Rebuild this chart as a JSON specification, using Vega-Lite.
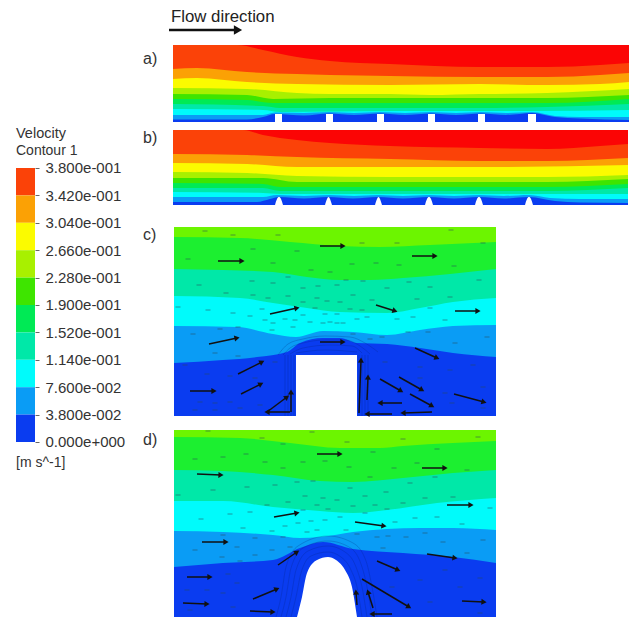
{"$schema":"https://vega.github.io/schema/vega-lite/v6.json","padding":0,"background":"white","bounds":"flush","spacing":105,"config":{"view":{"stroke":null},"text":{"font":"Liberation Sans"},"concat":{"spacing":8}},
"datasets":{
"legend":[{"band":"orangered","v0":0.342,"v1":0.38},{"band":"orange","v0":0.304,"v1":0.342},{"band":"yellow","v0":0.266,"v1":0.304},{"band":"yellowgreen","v0":0.228,"v1":0.266},{"band":"green","v0":0.19,"v1":0.228},{"band":"spring","v0":0.152,"v1":0.19},{"band":"teal","v0":0.114,"v1":0.152},{"band":"cyan","v0":0.076,"v1":0.114},{"band":"lightblue","v0":0.038,"v1":0.076},{"band":"blue","v0":0,"v1":0.038}],
"legendText":[{"x":16,"v":0.4272,"text":"Velocity","size":14.5},{"x":16,"v":0.4036,"text":"Contour 1","size":14},{"x":16,"v":-0.0291,"text":"[m s^-1]","size":14}],
"labels":[{"p":"h","x":171,"y":17,"text":"Flow direction","size":16.8},{"p":"a","x":143,"y":59,"text":"a)","size":16},{"p":"b","x":143,"y":138,"text":"b)","size":16},{"p":"c","x":143,"y":235,"text":"c)","size":16},{"p":"d","x":143,"y":440,"text":"d)","size":16}],
"contours":[
{"p":"a","band":"red","x":173,"y":45},{"p":"a","band":"red","x":629,"y":45},
{"p":"a","band":"orangered","x":173,"y":45},{"p":"a","band":"orangered","x":237,"y":45},{"p":"a","band":"orangered","x":263,"y":50},{"p":"a","band":"orangered","x":297,"y":57},{"p":"a","band":"orangered","x":330,"y":61},{"p":"a","band":"orangered","x":390,"y":64},{"p":"a","band":"orangered","x":480,"y":67},{"p":"a","band":"orangered","x":547,"y":67},{"p":"a","band":"orangered","x":600,"y":65},{"p":"a","band":"orangered","x":629,"y":63},
{"p":"a","band":"orange","x":173,"y":69},{"p":"a","band":"orange","x":197,"y":68},{"p":"a","band":"orange","x":247,"y":72},{"p":"a","band":"orange","x":297,"y":74},{"p":"a","band":"orange","x":330,"y":75},{"p":"a","band":"orange","x":390,"y":76},{"p":"a","band":"orange","x":480,"y":77},{"p":"a","band":"orange","x":547,"y":77},{"p":"a","band":"orange","x":600,"y":75},{"p":"a","band":"orange","x":629,"y":73},
{"p":"a","band":"yellow","x":173,"y":79},{"p":"a","band":"yellow","x":197,"y":78},{"p":"a","band":"yellow","x":247,"y":82},{"p":"a","band":"yellow","x":297,"y":84},{"p":"a","band":"yellow","x":390,"y":85},{"p":"a","band":"yellow","x":480,"y":84},{"p":"a","band":"yellow","x":547,"y":85},{"p":"a","band":"yellow","x":600,"y":84},{"p":"a","band":"yellow","x":629,"y":82},
{"p":"a","band":"yellowgreen","x":173,"y":88},{"p":"a","band":"yellowgreen","x":247,"y":89},{"p":"a","band":"yellowgreen","x":297,"y":93},{"p":"a","band":"yellowgreen","x":330,"y":94},{"p":"a","band":"yellowgreen","x":390,"y":94},{"p":"a","band":"yellowgreen","x":430,"y":95},{"p":"a","band":"yellowgreen","x":480,"y":94},{"p":"a","band":"yellowgreen","x":547,"y":93},{"p":"a","band":"yellowgreen","x":629,"y":89},
{"p":"a","band":"green","x":173,"y":94},{"p":"a","band":"green","x":247,"y":95},{"p":"a","band":"green","x":273,"y":99},{"p":"a","band":"green","x":330,"y":98},{"p":"a","band":"green","x":390,"y":98},{"p":"a","band":"green","x":480,"y":98},{"p":"a","band":"green","x":547,"y":98},{"p":"a","band":"green","x":629,"y":95},
{"p":"a","band":"spring","x":173,"y":99},{"p":"a","band":"spring","x":247,"y":100},{"p":"a","band":"spring","x":273,"y":103},{"p":"a","band":"spring","x":390,"y":103},{"p":"a","band":"spring","x":547,"y":103},{"p":"a","band":"spring","x":629,"y":99},
{"p":"a","band":"teal","x":173,"y":104},{"p":"a","band":"teal","x":263,"y":106},{"p":"a","band":"teal","x":280,"y":108},{"p":"a","band":"teal","x":390,"y":108},{"p":"a","band":"teal","x":480,"y":108},{"p":"a","band":"teal","x":547,"y":107},{"p":"a","band":"teal","x":629,"y":104},
{"p":"a","band":"cyan","x":173,"y":109},{"p":"a","band":"cyan","x":263,"y":110},{"p":"a","band":"cyan","x":280,"y":112},{"p":"a","band":"cyan","x":390,"y":111},{"p":"a","band":"cyan","x":530,"y":111},{"p":"a","band":"cyan","x":629,"y":110},
{"p":"a","band":"lightblue","x":173,"y":115},{"p":"a","band":"lightblue","x":263,"y":115},{"p":"a","band":"lightblue","x":275,"y":112.5},{"p":"a","band":"lightblue","x":304,"y":113},{"p":"a","band":"lightblue","x":329,"y":112},{"p":"a","band":"lightblue","x":354,"y":113},{"p":"a","band":"lightblue","x":380,"y":112},{"p":"a","band":"lightblue","x":405,"y":113},{"p":"a","band":"lightblue","x":431,"y":112},{"p":"a","band":"lightblue","x":456,"y":113},{"p":"a","band":"lightblue","x":481,"y":112},{"p":"a","band":"lightblue","x":506,"y":113},{"p":"a","band":"lightblue","x":532,"y":112},{"p":"a","band":"lightblue","x":555,"y":116},{"p":"a","band":"lightblue","x":580,"y":117},{"p":"a","band":"lightblue","x":629,"y":117},
{"p":"a","band":"blue","x":173,"y":119.5},{"p":"a","band":"blue","x":247,"y":119.5},{"p":"a","band":"blue","x":263,"y":117},{"p":"a","band":"blue","x":275,"y":114},{"p":"a","band":"blue","x":304,"y":115.5},{"p":"a","band":"blue","x":329,"y":113.5},{"p":"a","band":"blue","x":354,"y":115},{"p":"a","band":"blue","x":380,"y":113.5},{"p":"a","band":"blue","x":405,"y":115},{"p":"a","band":"blue","x":431,"y":113.5},{"p":"a","band":"blue","x":456,"y":115},{"p":"a","band":"blue","x":481,"y":113.5},{"p":"a","band":"blue","x":506,"y":115},{"p":"a","band":"blue","x":532,"y":113},{"p":"a","band":"blue","x":555,"y":117},{"p":"a","band":"blue","x":580,"y":118.5},{"p":"a","band":"blue","x":629,"y":120},
{"p":"b","band":"red","x":173,"y":130},{"p":"b","band":"red","x":628,"y":130},
{"p":"b","band":"orangered","x":173,"y":130},{"p":"b","band":"orangered","x":243,"y":130},{"p":"b","band":"orangered","x":263,"y":135},{"p":"b","band":"orangered","x":297,"y":140},{"p":"b","band":"orangered","x":330,"y":143},{"p":"b","band":"orangered","x":390,"y":146},{"p":"b","band":"orangered","x":480,"y":148},{"p":"b","band":"orangered","x":547,"y":149},{"p":"b","band":"orangered","x":600,"y":146},{"p":"b","band":"orangered","x":628,"y":144},
{"p":"b","band":"orange","x":173,"y":154},{"p":"b","band":"orange","x":247,"y":155},{"p":"b","band":"orange","x":297,"y":157},{"p":"b","band":"orange","x":390,"y":159},{"p":"b","band":"orange","x":480,"y":161},{"p":"b","band":"orange","x":547,"y":161},{"p":"b","band":"orange","x":628,"y":158},
{"p":"b","band":"yellow","x":173,"y":163},{"p":"b","band":"yellow","x":247,"y":164},{"p":"b","band":"yellow","x":297,"y":167},{"p":"b","band":"yellow","x":390,"y":167},{"p":"b","band":"yellow","x":480,"y":167},{"p":"b","band":"yellow","x":628,"y":165},
{"p":"b","band":"yellowgreen","x":173,"y":172},{"p":"b","band":"yellowgreen","x":247,"y":173},{"p":"b","band":"yellowgreen","x":297,"y":176},{"p":"b","band":"yellowgreen","x":390,"y":177},{"p":"b","band":"yellowgreen","x":547,"y":177},{"p":"b","band":"yellowgreen","x":628,"y":175},
{"p":"b","band":"green","x":173,"y":178},{"p":"b","band":"green","x":263,"y":178},{"p":"b","band":"green","x":297,"y":182},{"p":"b","band":"green","x":390,"y":182},{"p":"b","band":"green","x":547,"y":182},{"p":"b","band":"green","x":628,"y":179},
{"p":"b","band":"spring","x":173,"y":183},{"p":"b","band":"spring","x":263,"y":184},{"p":"b","band":"spring","x":280,"y":187},{"p":"b","band":"spring","x":390,"y":187},{"p":"b","band":"spring","x":547,"y":187},{"p":"b","band":"spring","x":628,"y":184},
{"p":"b","band":"teal","x":173,"y":188},{"p":"b","band":"teal","x":263,"y":188},{"p":"b","band":"teal","x":280,"y":191},{"p":"b","band":"teal","x":390,"y":191},{"p":"b","band":"teal","x":547,"y":191},{"p":"b","band":"teal","x":628,"y":188},
{"p":"b","band":"cyan","x":173,"y":192},{"p":"b","band":"cyan","x":263,"y":193},{"p":"b","band":"cyan","x":280,"y":194},{"p":"b","band":"cyan","x":390,"y":194},{"p":"b","band":"cyan","x":547,"y":194},{"p":"b","band":"cyan","x":628,"y":194},
{"p":"b","band":"lightblue","x":173,"y":197},{"p":"b","band":"lightblue","x":263,"y":197},{"p":"b","band":"lightblue","x":277,"y":195},{"p":"b","band":"lightblue","x":304,"y":196},{"p":"b","band":"lightblue","x":329,"y":195},{"p":"b","band":"lightblue","x":354,"y":196},{"p":"b","band":"lightblue","x":378,"y":195},{"p":"b","band":"lightblue","x":403,"y":196},{"p":"b","band":"lightblue","x":429,"y":195},{"p":"b","band":"lightblue","x":454,"y":196},{"p":"b","band":"lightblue","x":479,"y":195},{"p":"b","band":"lightblue","x":504,"y":196},{"p":"b","band":"lightblue","x":529,"y":195},{"p":"b","band":"lightblue","x":550,"y":198},{"p":"b","band":"lightblue","x":580,"y":199},{"p":"b","band":"lightblue","x":628,"y":199},
{"p":"b","band":"blue","x":173,"y":202},{"p":"b","band":"blue","x":257,"y":202},{"p":"b","band":"blue","x":270,"y":199},{"p":"b","band":"blue","x":279,"y":197},{"p":"b","band":"blue","x":304,"y":198.5},{"p":"b","band":"blue","x":328,"y":197},{"p":"b","band":"blue","x":353,"y":198.5},{"p":"b","band":"blue","x":378,"y":197},{"p":"b","band":"blue","x":403,"y":198.5},{"p":"b","band":"blue","x":429,"y":197},{"p":"b","band":"blue","x":454,"y":198.5},{"p":"b","band":"blue","x":479,"y":197},{"p":"b","band":"blue","x":504,"y":198.5},{"p":"b","band":"blue","x":529,"y":197},{"p":"b","band":"blue","x":555,"y":201},{"p":"b","band":"blue","x":580,"y":202.5},{"p":"b","band":"blue","x":628,"y":203},
{"p":"c","band":"lime","x":174,"y":227},{"p":"c","band":"lime","x":496,"y":227},
{"p":"c","band":"leaf","x":174,"y":237},{"p":"c","band":"leaf","x":240,"y":238},{"p":"c","band":"leaf","x":290,"y":242},{"p":"c","band":"leaf","x":340,"y":246},{"p":"c","band":"leaf","x":380,"y":247},{"p":"c","band":"leaf","x":430,"y":245},{"p":"c","band":"leaf","x":496,"y":242},
{"p":"c","band":"teal","x":174,"y":269},{"p":"c","band":"teal","x":223,"y":270},{"p":"c","band":"teal","x":273,"y":272},{"p":"c","band":"teal","x":307,"y":277},{"p":"c","band":"teal","x":340,"y":280},{"p":"c","band":"teal","x":370,"y":280},{"p":"c","band":"teal","x":403,"y":278},{"p":"c","band":"teal","x":450,"y":274},{"p":"c","band":"teal","x":496,"y":269},
{"p":"c","band":"cyan","x":174,"y":296},{"p":"c","band":"cyan","x":240,"y":298},{"p":"c","band":"cyan","x":273,"y":303},{"p":"c","band":"cyan","x":307,"y":308},{"p":"c","band":"cyan","x":340,"y":312},{"p":"c","band":"cyan","x":387,"y":313},{"p":"c","band":"cyan","x":420,"y":308},{"p":"c","band":"cyan","x":453,"y":302},{"p":"c","band":"cyan","x":496,"y":298},
{"p":"c","band":"lightblue","x":174,"y":326},{"p":"c","band":"lightblue","x":237,"y":327},{"p":"c","band":"lightblue","x":273,"y":334},{"p":"c","band":"lightblue","x":296,"y":337},{"p":"c","band":"lightblue","x":323,"y":331},{"p":"c","band":"lightblue","x":353,"y":332},{"p":"c","band":"lightblue","x":387,"y":335},{"p":"c","band":"lightblue","x":420,"y":330},{"p":"c","band":"lightblue","x":453,"y":326},{"p":"c","band":"lightblue","x":496,"y":325},
{"p":"c","band":"blue","x":174,"y":363},{"p":"c","band":"blue","x":223,"y":360},{"p":"c","band":"blue","x":257,"y":357},{"p":"c","band":"blue","x":287,"y":352},{"p":"c","band":"blue","x":300,"y":343},{"p":"c","band":"blue","x":323,"y":338},{"p":"c","band":"blue","x":340,"y":338},{"p":"c","band":"blue","x":357,"y":343},{"p":"c","band":"blue","x":387,"y":344},{"p":"c","band":"blue","x":420,"y":348},{"p":"c","band":"blue","x":453,"y":353},{"p":"c","band":"blue","x":496,"y":357},
{"p":"d","band":"lime","x":174,"y":430},{"p":"d","band":"lime","x":496,"y":430},
{"p":"d","band":"leaf","x":174,"y":437},{"p":"d","band":"leaf","x":240,"y":438},{"p":"d","band":"leaf","x":290,"y":443},{"p":"d","band":"leaf","x":340,"y":448},{"p":"d","band":"leaf","x":380,"y":448},{"p":"d","band":"leaf","x":403,"y":446},{"p":"d","band":"leaf","x":453,"y":443},{"p":"d","band":"leaf","x":496,"y":441},
{"p":"d","band":"teal","x":174,"y":470},{"p":"d","band":"teal","x":223,"y":471},{"p":"d","band":"teal","x":273,"y":475},{"p":"d","band":"teal","x":320,"y":481},{"p":"d","band":"teal","x":353,"y":482},{"p":"d","band":"teal","x":403,"y":478},{"p":"d","band":"teal","x":453,"y":473},{"p":"d","band":"teal","x":496,"y":470},
{"p":"d","band":"cyan","x":174,"y":501},{"p":"d","band":"cyan","x":223,"y":501},{"p":"d","band":"cyan","x":273,"y":507},{"p":"d","band":"cyan","x":320,"y":511},{"p":"d","band":"cyan","x":353,"y":513},{"p":"d","band":"cyan","x":387,"y":510},{"p":"d","band":"cyan","x":437,"y":503},{"p":"d","band":"cyan","x":496,"y":498},
{"p":"d","band":"lightblue","x":174,"y":531},{"p":"d","band":"lightblue","x":223,"y":532},{"p":"d","band":"lightblue","x":273,"y":535},{"p":"d","band":"lightblue","x":300,"y":538},{"p":"d","band":"lightblue","x":320,"y":537},{"p":"d","band":"lightblue","x":353,"y":532},{"p":"d","band":"lightblue","x":420,"y":528},{"p":"d","band":"lightblue","x":453,"y":528},{"p":"d","band":"lightblue","x":496,"y":530},
{"p":"d","band":"blue","x":174,"y":567},{"p":"d","band":"blue","x":223,"y":563},{"p":"d","band":"blue","x":273,"y":560},{"p":"d","band":"blue","x":300,"y":548},{"p":"d","band":"blue","x":323,"y":542},{"p":"d","band":"blue","x":353,"y":549},{"p":"d","band":"blue","x":403,"y":553},{"p":"d","band":"blue","x":453,"y":557},{"p":"d","band":"blue","x":496,"y":563}
],
"obstacles":[
{"p":"a","id":1,"x":275,"y":114},{"p":"a","id":1,"x":282,"y":114},{"p":"a","id":2,"x":326,"y":114},{"p":"a","id":2,"x":333,"y":114},{"p":"a","id":3,"x":377,"y":114},{"p":"a","id":3,"x":384,"y":114},{"p":"a","id":4,"x":428,"y":114},{"p":"a","id":4,"x":435,"y":114},{"p":"a","id":5,"x":478,"y":114},{"p":"a","id":5,"x":485,"y":114},{"p":"a","id":6,"x":528,"y":114},{"p":"a","id":6,"x":536,"y":114},
{"p":"b","id":1,"x":275,"y":205},{"p":"b","id":1,"x":277,"y":199},{"p":"b","id":1,"x":279,"y":197},{"p":"b","id":1,"x":281,"y":199},{"p":"b","id":1,"x":283,"y":205},
{"p":"b","id":2,"x":325,"y":205},{"p":"b","id":2,"x":327,"y":199},{"p":"b","id":2,"x":328.5,"y":197},{"p":"b","id":2,"x":330,"y":199},{"p":"b","id":2,"x":332,"y":205},
{"p":"b","id":3,"x":375,"y":205},{"p":"b","id":3,"x":377,"y":199},{"p":"b","id":3,"x":378.5,"y":197},{"p":"b","id":3,"x":380,"y":199},{"p":"b","id":3,"x":382,"y":205},
{"p":"b","id":4,"x":425,"y":205},{"p":"b","id":4,"x":427,"y":199},{"p":"b","id":4,"x":429,"y":197},{"p":"b","id":4,"x":431,"y":199},{"p":"b","id":4,"x":433,"y":205},
{"p":"b","id":5,"x":475,"y":205},{"p":"b","id":5,"x":477,"y":199},{"p":"b","id":5,"x":479,"y":197},{"p":"b","id":5,"x":481,"y":199},{"p":"b","id":5,"x":483,"y":205},
{"p":"b","id":6,"x":525,"y":205},{"p":"b","id":6,"x":527,"y":199},{"p":"b","id":6,"x":529,"y":197},{"p":"b","id":6,"x":531,"y":199},{"p":"b","id":6,"x":533,"y":205},
{"p":"c","id":1,"x":296,"y":355},{"p":"c","id":1,"x":357,"y":355},
{"p":"d","id":1,"x":297,"y":617},{"p":"d","id":1,"x":302,"y":597},{"p":"d","id":1,"x":307,"y":573},{"p":"d","id":1,"x":317,"y":560},{"p":"d","id":1,"x":328,"y":557},{"p":"d","id":1,"x":336,"y":560},{"p":"d","id":1,"x":345,"y":570},{"p":"d","id":1,"x":352,"y":587},{"p":"d","id":1,"x":357,"y":617}
],
"walls":[
{"p":"c","id":1,"x":283,"y":355},{"p":"c","id":1,"x":290,"y":348},{"p":"c","id":1,"x":303,"y":343},{"p":"c","id":1,"x":325,"y":340},{"p":"c","id":1,"x":345,"y":340},{"p":"c","id":1,"x":360,"y":346},{"p":"c","id":1,"x":370,"y":354},
{"p":"c","id":2,"x":278,"y":355},{"p":"c","id":2,"x":288,"y":344},{"p":"c","id":2,"x":303,"y":339},{"p":"c","id":2,"x":325,"y":336},{"p":"c","id":2,"x":350,"y":337},{"p":"c","id":2,"x":365,"y":343},{"p":"c","id":2,"x":378,"y":352},
{"p":"c","id":3,"x":290,"y":354},{"p":"c","id":3,"x":303,"y":348},{"p":"c","id":3,"x":330,"y":345},{"p":"c","id":3,"x":352,"y":346},{"p":"c","id":3,"x":362,"y":353},
{"p":"c","id":4,"x":296,"y":353},{"p":"c","id":4,"x":325,"y":350},{"p":"c","id":4,"x":357,"y":352},
{"p":"c","id":5,"x":285,"y":355},{"p":"c","id":5,"x":285,"y":416},{"p":"c","id":6,"x":288,"y":355},{"p":"c","id":6,"x":288,"y":416},{"p":"c","id":7,"x":291,"y":355},{"p":"c","id":7,"x":291,"y":416},{"p":"c","id":8,"x":294,"y":355},{"p":"c","id":8,"x":294,"y":416},
{"p":"c","id":9,"x":359,"y":355},{"p":"c","id":9,"x":359,"y":416},{"p":"c","id":10,"x":362,"y":355},{"p":"c","id":10,"x":362,"y":416},{"p":"c","id":11,"x":365,"y":355},{"p":"c","id":11,"x":365,"y":416},{"p":"c","id":12,"x":368,"y":355},{"p":"c","id":12,"x":368,"y":416},
{"p":"d","id":1,"x":291,"y":617},{"p":"d","id":1,"x":296,"y":597},{"p":"d","id":1,"x":301,"y":573},{"p":"d","id":1,"x":311,"y":556},{"p":"d","id":1,"x":328,"y":552},{"p":"d","id":1,"x":341,"y":557},{"p":"d","id":1,"x":351,"y":570},{"p":"d","id":1,"x":357,"y":587},{"p":"d","id":1,"x":362,"y":617},
{"p":"d","id":2,"x":286,"y":617},{"p":"d","id":2,"x":291,"y":597},{"p":"d","id":2,"x":296,"y":570},{"p":"d","id":2,"x":308,"y":551},{"p":"d","id":2,"x":328,"y":546},{"p":"d","id":2,"x":345,"y":552},{"p":"d","id":2,"x":356,"y":567},{"p":"d","id":2,"x":362,"y":587},{"p":"d","id":2,"x":367,"y":617},
{"p":"d","id":3,"x":281,"y":617},{"p":"d","id":3,"x":286,"y":597},{"p":"d","id":3,"x":291,"y":568},{"p":"d","id":3,"x":303,"y":548},{"p":"d","id":3,"x":328,"y":541},{"p":"d","id":3,"x":349,"y":547},{"p":"d","id":3,"x":361,"y":564},{"p":"d","id":3,"x":367,"y":587},{"p":"d","id":3,"x":372,"y":617},
{"p":"d","id":4,"x":276,"y":617},{"p":"d","id":4,"x":281,"y":597},{"p":"d","id":4,"x":286,"y":567},{"p":"d","id":4,"x":298,"y":546},{"p":"d","id":4,"x":328,"y":536},{"p":"d","id":4,"x":353,"y":543},{"p":"d","id":4,"x":366,"y":561},{"p":"d","id":4,"x":372,"y":587},{"p":"d","id":4,"x":377,"y":617}
],
"arrows":[
{"p":"c","x":218,"y":261,"x2":242,"y2":261,"dir":0},{"p":"c","x":320,"y":246,"x2":343,"y2":246,"dir":0},{"p":"c","x":412,"y":256,"x2":435,"y2":256,"dir":0},{"p":"c","x":270,"y":314,"x2":297,"y2":308,"dir":-12.5},{"p":"c","x":209,"y":344,"x2":237,"y2":338,"dir":-12},{"p":"c","x":238,"y":374,"x2":262,"y2":362,"dir":-27},{"p":"c","x":241,"y":394,"x2":261,"y2":384,"dir":-27},{"p":"c","x":190,"y":391,"x2":214,"y2":391,"dir":0},{"p":"c","x":267,"y":412,"x2":287,"y2":397,"dir":-37},{"p":"c","x":291,"y":412,"x2":291,"y2":392,"dir":-90},{"p":"c","x":290,"y":412,"x2":267,"y2":412,"dir":180},{"p":"c","x":320,"y":342,"x2":343,"y2":342,"dir":0},{"p":"c","x":376,"y":305,"x2":395,"y2":311,"dir":17.5},{"p":"c","x":455,"y":311,"x2":478,"y2":311,"dir":0},{"p":"c","x":415,"y":348,"x2":437,"y2":358,"dir":24},{"p":"c","x":399,"y":377,"x2":422,"y2":390,"dir":29.5},{"p":"c","x":380,"y":379,"x2":401,"y2":391,"dir":30},{"p":"c","x":410,"y":394,"x2":432,"y2":406,"dir":29},{"p":"c","x":454,"y":394,"x2":484,"y2":402,"dir":15},{"p":"c","x":402,"y":403,"x2":380,"y2":403,"dir":180},{"p":"c","x":392,"y":414,"x2":367,"y2":414,"dir":180},{"p":"c","x":432,"y":412,"x2":403,"y2":413,"dir":178},{"p":"c","x":359,"y":413,"x2":361,"y2":360,"dir":-88},{"p":"c","x":367,"y":400,"x2":368,"y2":377,"dir":-88},
{"p":"d","x":197,"y":474,"x2":221,"y2":475,"dir":2},{"p":"d","x":317,"y":454,"x2":340,"y2":454,"dir":0},{"p":"d","x":422,"y":468,"x2":445,"y2":468,"dir":0},{"p":"d","x":447,"y":505,"x2":471,"y2":505,"dir":0},{"p":"d","x":274,"y":517,"x2":297,"y2":513,"dir":-10},{"p":"d","x":202,"y":542,"x2":226,"y2":542,"dir":0},{"p":"d","x":355,"y":522,"x2":384,"y2":526,"dir":8},{"p":"d","x":427,"y":554,"x2":455,"y2":558,"dir":8},{"p":"d","x":187,"y":577,"x2":210,"y2":577,"dir":0},{"p":"d","x":183,"y":603,"x2":207,"y2":604,"dir":2},{"p":"d","x":278,"y":565,"x2":297,"y2":552,"dir":-34},{"p":"d","x":253,"y":599,"x2":277,"y2":589,"dir":-23},{"p":"d","x":250,"y":611,"x2":273,"y2":612,"dir":2},{"p":"d","x":377,"y":561,"x2":398,"y2":570,"dir":23},{"p":"d","x":362,"y":579,"x2":409,"y2":607,"dir":31},{"p":"d","x":462,"y":601,"x2":484,"y2":602,"dir":3},{"p":"d","x":392,"y":614,"x2":372,"y2":614,"dir":180},{"p":"d","x":373,"y":608,"x2":368,"y2":592,"dir":-107},{"p":"d","x":357,"y":605,"x2":356,"y2":592,"dir":-94}
],
"flow":[{"x":169,"y":30,"x2":238,"y2":30,"dir":0}],
"dashes":[
{"p":"c","x":205,"y":231},{"p":"c","x":233,"y":235},{"p":"c","x":278,"y":235},{"p":"c","x":253,"y":249},{"p":"c","x":297,"y":251},{"p":"c","x":188,"y":259},{"p":"c","x":273,"y":263},{"p":"c","x":311,"y":270},{"p":"c","x":330,"y":272},{"p":"c","x":199,"y":285},{"p":"c","x":252,"y":281},{"p":"c","x":273,"y":283},{"p":"c","x":288,"y":277},{"p":"c","x":303,"y":288},{"p":"c","x":318,"y":286},{"p":"c","x":337,"y":285},{"p":"c","x":226,"y":293},{"p":"c","x":253,"y":295},{"p":"c","x":268,"y":298},{"p":"c","x":288,"y":296},{"p":"c","x":303,"y":302},{"p":"c","x":317,"y":298},{"p":"c","x":178,"y":307},{"p":"c","x":208,"y":310},{"p":"c","x":233,"y":313},{"p":"c","x":250,"y":316},{"p":"c","x":262,"y":309},{"p":"c","x":303,"y":315},{"p":"c","x":315,"y":308},{"p":"c","x":325,"y":314},{"p":"c","x":265,"y":320},{"p":"c","x":285,"y":319},{"p":"c","x":295,"y":320},{"p":"c","x":273,"y":323},{"p":"c","x":310,"y":322},{"p":"c","x":323,"y":323},{"p":"c","x":220,"y":329},{"p":"c","x":238,"y":327},{"p":"c","x":193,"y":334},{"p":"c","x":272,"y":330},{"p":"c","x":293,"y":327},{"p":"c","x":337,"y":323},{"p":"c","x":215,"y":353},{"p":"c","x":238,"y":356},{"p":"c","x":207,"y":374},{"p":"c","x":230,"y":376},{"p":"c","x":185,"y":365},{"p":"c","x":200,"y":402},{"p":"c","x":215,"y":403},{"p":"c","x":230,"y":402},{"p":"c","x":195,"y":410},{"p":"c","x":215,"y":410},{"p":"c","x":240,"y":408},{"p":"c","x":260,"y":405},{"p":"c","x":255,"y":378},{"p":"c","x":275,"y":362},
{"p":"c","x":451,"y":230},{"p":"c","x":362,"y":243},{"p":"c","x":397,"y":243},{"p":"c","x":483,"y":243},{"p":"c","x":352,"y":264},{"p":"c","x":376,"y":263},{"p":"c","x":399,"y":265},{"p":"c","x":454,"y":266},{"p":"c","x":346,"y":280},{"p":"c","x":363,"y":281},{"p":"c","x":409,"y":282},{"p":"c","x":479,"y":280},{"p":"c","x":387,"y":288},{"p":"c","x":430,"y":287},{"p":"c","x":353,"y":295},{"p":"c","x":327,"y":301},{"p":"c","x":340,"y":302},{"p":"c","x":372,"y":300},{"p":"c","x":417,"y":299},{"p":"c","x":450,"y":297},{"p":"c","x":350,"y":309},{"p":"c","x":362,"y":310},{"p":"c","x":430,"y":308},{"p":"c","x":337,"y":314},{"p":"c","x":367,"y":317},{"p":"c","x":357,"y":319},{"p":"c","x":397,"y":319},{"p":"c","x":413,"y":317},{"p":"c","x":445,"y":320},{"p":"c","x":330,"y":322},{"p":"c","x":343,"y":323},{"p":"c","x":408,"y":332},{"p":"c","x":428,"y":332},{"p":"c","x":487,"y":337},{"p":"c","x":382,"y":337},{"p":"c","x":455,"y":343},{"p":"c","x":370,"y":339},{"p":"c","x":353,"y":334},{"p":"c","x":473,"y":365},{"p":"c","x":450,"y":370},{"p":"c","x":420,"y":367},{"p":"c","x":385,"y":362},{"p":"c","x":483,"y":387},{"p":"c","x":445,"y":393},{"p":"c","x":483,"y":408},{"p":"c","x":452,"y":403},{"p":"c","x":420,"y":378},
{"p":"d","x":208,"y":431},{"p":"d","x":312,"y":432},{"p":"d","x":262,"y":438},{"p":"d","x":283,"y":444},{"p":"d","x":195,"y":459},{"p":"d","x":223,"y":457},{"p":"d","x":246,"y":454},{"p":"d","x":265,"y":462},{"p":"d","x":303,"y":462},{"p":"d","x":325,"y":461},{"p":"d","x":283,"y":468},{"p":"d","x":178,"y":495},{"p":"d","x":213,"y":490},{"p":"d","x":247,"y":487},{"p":"d","x":275,"y":485},{"p":"d","x":297,"y":482},{"p":"d","x":313,"y":481},{"p":"d","x":305,"y":496},{"p":"d","x":323,"y":498},{"p":"d","x":288,"y":502},{"p":"d","x":267,"y":505},{"p":"d","x":337,"y":500},{"p":"d","x":317,"y":505},{"p":"d","x":328,"y":509},{"p":"d","x":303,"y":510},{"p":"d","x":250,"y":512},{"p":"d","x":230,"y":514},{"p":"d","x":201,"y":519},{"p":"d","x":285,"y":526},{"p":"d","x":298,"y":523},{"p":"d","x":311,"y":521},{"p":"d","x":325,"y":520},{"p":"d","x":243,"y":528},{"p":"d","x":272,"y":531},{"p":"d","x":307,"y":532},{"p":"d","x":317,"y":530},{"p":"d","x":255,"y":538},{"p":"d","x":283,"y":537},{"p":"d","x":223,"y":535},{"p":"d","x":195,"y":550},{"p":"d","x":237,"y":547},{"p":"d","x":255,"y":555},{"p":"d","x":222,"y":557},{"p":"d","x":272,"y":550},{"p":"d","x":290,"y":547},{"p":"d","x":240,"y":561},{"p":"d","x":228,"y":574},{"p":"d","x":207,"y":590},{"p":"d","x":187,"y":590},{"p":"d","x":237,"y":583},{"p":"d","x":223,"y":593},{"p":"d","x":190,"y":610},{"p":"d","x":233,"y":607},
{"p":"d","x":403,"y":439},{"p":"d","x":478,"y":437},{"p":"d","x":347,"y":442},{"p":"d","x":373,"y":452},{"p":"d","x":437,"y":449},{"p":"d","x":417,"y":463},{"p":"d","x":349,"y":467},{"p":"d","x":394,"y":468},{"p":"d","x":467,"y":470},{"p":"d","x":370,"y":477},{"p":"d","x":435,"y":477},{"p":"d","x":410,"y":483},{"p":"d","x":350,"y":488},{"p":"d","x":386,"y":492},{"p":"d","x":365,"y":496},{"p":"d","x":425,"y":498},{"p":"d","x":453,"y":497},{"p":"d","x":403,"y":503},{"p":"d","x":353,"y":506},{"p":"d","x":375,"y":505},{"p":"d","x":490,"y":508},{"p":"d","x":387,"y":509},{"p":"d","x":365,"y":513},{"p":"d","x":415,"y":518},{"p":"d","x":437,"y":517},{"p":"d","x":340,"y":517},{"p":"d","x":462,"y":524},{"p":"d","x":395,"y":522},{"p":"d","x":425,"y":533},{"p":"d","x":406,"y":537},{"p":"d","x":388,"y":536},{"p":"d","x":357,"y":534},{"p":"d","x":377,"y":537},{"p":"d","x":346,"y":530},{"p":"d","x":483,"y":540},{"p":"d","x":443,"y":542},{"p":"d","x":467,"y":553},{"p":"d","x":383,"y":548},{"p":"d","x":445,"y":570},{"p":"d","x":480,"y":578},{"p":"d","x":420,"y":580},{"p":"d","x":460,"y":587},{"p":"d","x":480,"y":613},{"p":"d","x":430,"y":602},{"p":"d","x":392,"y":587}
]},
"hconcat":[
{"width":35,"height":619,"layer":[
{"data":{"name":"legend"},"mark":{"type":"rect"},"encoding":{"x":{"datum":16,"type":"quantitative","scale":{"domain":[0,35],"nice":false},"axis":null},"x2":{"datum":35},"y":{"field":"v0","type":"quantitative","scale":{"domain":[-0.2455,0.613],"nice":false,"zero":false},"axis":{"orient":"right","title":null,"values":[0,0.038,0.076,0.114,0.152,0.19,0.228,0.266,0.304,0.342,0.38],"labelExpr":"replace(replace(format(datum.value,'.3e'),'e-','e-00'),'e+0','e+000')","tickSize":4,"tickColor":"#666","labelPadding":6,"domain":false,"grid":false,"labelFont":"Liberation Sans","labelFontSize":15,"labelColor":"#333","labelOverlap":false,"labelFlush":false}},"y2":{"field":"v1"},"color":{"field":"band","type":"nominal","legend":null,"scale":{"domain":["red","orangered","orange","yellow","yellowgreen","green","spring","teal","cyan","lightblue","blue","lime","leaf"],"range":["#fb0505","#fb4208","#fba105","#fbfb00","#a8f000","#3ee500","#00ea55","#00e8a8","#00fbfb","#0a9cf5","#0a3cf0","#6cf500","#1cef30"]}}}},
{"data":{"name":"legendText"},"mark":{"type":"text","align":"left","baseline":"middle","color":"#333"},"encoding":{"x":{"field":"x","type":"quantitative"},"y":{"field":"v","type":"quantitative"},"text":{"field":"text"},"size":{"field":"size","type":"quantitative","scale":null}}}
]},
{"bounds":"flush","spacing":8,"vconcat":[
{"width":489,"height":37,"encoding":{"x":{"field":"x","type":"quantitative","scale":{"domain":[140,629],"nice":false,"zero":false},"axis":null},"y":{"field":"y","type":"quantitative","scale":{"domain":[37,0],"nice":false,"zero":false},"axis":null}},"layer":[
{"data":{"name":"flow"},"mark":{"type":"rule","color":"#111","strokeWidth":2.5},"encoding":{"x2":{"field":"x2"},"y2":{"field":"y2"}}},
{"data":{"name":"flow"},"mark":{"type":"point","shape":"triangle-right","filled":true,"color":"#111","opacity":1,"size":90},"encoding":{"x":{"field":"x2","type":"quantitative"}}},
{"data":{"name":"labels"},"transform":[{"filter":"datum.p=='h'"}],"mark":{"type":"text","align":"left","baseline":"middle","color":"#222"},"encoding":{"text":{"field":"text"},"size":{"field":"size","type":"quantitative","scale":null}}}
]},
{"width":489,"height":77,"encoding":{"x":{"field":"x","type":"quantitative","scale":{"domain":[140,629],"nice":false,"zero":false},"axis":null},"y":{"field":"y","type":"quantitative","scale":{"domain":[122,45],"nice":false,"zero":false},"axis":null}},"layer":[
{"data":{"name":"contours"},"transform":[{"filter":"datum.p=='a'"}],"mark":{"type":"area","orient":"vertical","interpolate":"monotone"},"encoding":{"y2":{"datum":122},"color":{"field":"band","type":"nominal","legend":null,"scale":{"domain":["red","orangered","orange","yellow","yellowgreen","green","spring","teal","cyan","lightblue","blue","lime","leaf"],"range":["#fb0505","#fb4208","#fba105","#fbfb00","#a8f000","#3ee500","#00ea55","#00e8a8","#00fbfb","#0a9cf5","#0a3cf0","#6cf500","#1cef30"]}}}},
{"data":{"name":"obstacles"},"transform":[{"filter":"datum.p=='a'"}],"mark":{"type":"area","orient":"vertical","color":"#fff"},"encoding":{"y2":{"datum":122},"detail":{"field":"id"}}},
{"data":{"name":"labels"},"transform":[{"filter":"datum.p=='a'"}],"mark":{"type":"text","align":"left","baseline":"middle","color":"#333"},"encoding":{"text":{"field":"text"},"size":{"field":"size","type":"quantitative","scale":null}}}
]},
{"width":489,"height":76,"encoding":{"x":{"field":"x","type":"quantitative","scale":{"domain":[140,629],"nice":false,"zero":false},"axis":null},"y":{"field":"y","type":"quantitative","scale":{"domain":[206,130],"nice":false,"zero":false},"axis":null}},"layer":[
{"data":{"name":"contours"},"transform":[{"filter":"datum.p=='b'"}],"mark":{"type":"area","orient":"vertical","interpolate":"monotone"},"encoding":{"y2":{"datum":205},"color":{"field":"band","type":"nominal","legend":null,"scale":{"domain":["red","orangered","orange","yellow","yellowgreen","green","spring","teal","cyan","lightblue","blue","lime","leaf"],"range":["#fb0505","#fb4208","#fba105","#fbfb00","#a8f000","#3ee500","#00ea55","#00e8a8","#00fbfb","#0a9cf5","#0a3cf0","#6cf500","#1cef30"]}}}},
{"data":{"name":"obstacles"},"transform":[{"filter":"datum.p=='b'"}],"mark":{"type":"area","orient":"vertical","color":"#fff","interpolate":"monotone"},"encoding":{"y2":{"datum":206},"detail":{"field":"id"}}},
{"data":{"name":"labels"},"transform":[{"filter":"datum.p=='b'"}],"mark":{"type":"text","align":"left","baseline":"middle","color":"#333"},"encoding":{"text":{"field":"text"},"size":{"field":"size","type":"quantitative","scale":null}}}
]},
{"width":489,"height":203,"encoding":{"x":{"field":"x","type":"quantitative","scale":{"domain":[140,629],"nice":false,"zero":false},"axis":null},"y":{"field":"y","type":"quantitative","scale":{"domain":[417,214],"nice":false,"zero":false},"axis":null}},"layer":[
{"data":{"name":"contours"},"transform":[{"filter":"datum.p=='c'"}],"mark":{"type":"area","orient":"vertical","interpolate":"monotone"},"encoding":{"y2":{"datum":416},"color":{"field":"band","type":"nominal","legend":null,"scale":{"domain":["red","orangered","orange","yellow","yellowgreen","green","spring","teal","cyan","lightblue","blue","lime","leaf"],"range":["#fb0505","#fb4208","#fba105","#fbfb00","#a8f000","#3ee500","#00ea55","#00e8a8","#00fbfb","#0a9cf5","#0a3cf0","#6cf500","#1cef30"]}}}},
{"data":{"name":"obstacles"},"transform":[{"filter":"datum.p=='c'"}],"mark":{"type":"area","orient":"vertical","color":"#fff"},"encoding":{"y2":{"datum":417},"detail":{"field":"id"}}},
{"data":{"name":"walls"},"transform":[{"filter":"datum.p=='c'"}],"mark":{"type":"line","interpolate":"monotone","color":"#06207a","strokeWidth":0.8,"opacity":0.3},"encoding":{"detail":{"field":"id"},"order":{"field":"x","type":"quantitative"}}},
{"data":{"name":"dashes"},"transform":[{"filter":"datum.p=='c'"}],"mark":{"type":"point","shape":"stroke","size":25,"color":"#2a4a5a","strokeWidth":1,"opacity":0.55}},
{"data":{"name":"arrows"},"transform":[{"filter":"datum.p=='c'"}],"mark":{"type":"rule","color":"#111","strokeWidth":1.5},"encoding":{"x2":{"field":"x2"},"y2":{"field":"y2"}}},
{"data":{"name":"arrows"},"transform":[{"filter":"datum.p=='c'"}],"mark":{"type":"point","shape":"triangle-right","filled":true,"color":"#111","opacity":1,"size":36},"encoding":{"x":{"field":"x2","type":"quantitative"},"y":{"field":"y2","type":"quantitative"},"angle":{"field":"dir","type":"quantitative","scale":null}}},
{"data":{"name":"labels"},"transform":[{"filter":"datum.p=='c'"}],"mark":{"type":"text","align":"left","baseline":"middle","color":"#333"},"encoding":{"text":{"field":"text"},"size":{"field":"size","type":"quantitative","scale":null}}}
]},
{"width":489,"height":194,"encoding":{"x":{"field":"x","type":"quantitative","scale":{"domain":[140,629],"nice":false,"zero":false},"axis":null},"y":{"field":"y","type":"quantitative","scale":{"domain":[619,425],"nice":false,"zero":false},"axis":null}},"layer":[
{"data":{"name":"contours"},"transform":[{"filter":"datum.p=='d'"}],"mark":{"type":"area","orient":"vertical","interpolate":"monotone"},"encoding":{"y2":{"datum":617},"color":{"field":"band","type":"nominal","legend":null,"scale":{"domain":["red","orangered","orange","yellow","yellowgreen","green","spring","teal","cyan","lightblue","blue","lime","leaf"],"range":["#fb0505","#fb4208","#fba105","#fbfb00","#a8f000","#3ee500","#00ea55","#00e8a8","#00fbfb","#0a9cf5","#0a3cf0","#6cf500","#1cef30"]}}}},
{"data":{"name":"obstacles"},"transform":[{"filter":"datum.p=='d'"}],"mark":{"type":"area","orient":"vertical","color":"#fff","interpolate":"monotone"},"encoding":{"y2":{"datum":619},"detail":{"field":"id"}}},
{"data":{"name":"walls"},"transform":[{"filter":"datum.p=='d'"}],"mark":{"type":"line","interpolate":"monotone","color":"#06207a","strokeWidth":0.8,"opacity":0.3},"encoding":{"detail":{"field":"id"},"order":{"field":"x","type":"quantitative"}}},
{"data":{"name":"dashes"},"transform":[{"filter":"datum.p=='d'"}],"mark":{"type":"point","shape":"stroke","size":25,"color":"#2a4a5a","strokeWidth":1,"opacity":0.55}},
{"data":{"name":"arrows"},"transform":[{"filter":"datum.p=='d'"}],"mark":{"type":"rule","color":"#111","strokeWidth":1.5},"encoding":{"x2":{"field":"x2"},"y2":{"field":"y2"}}},
{"data":{"name":"arrows"},"transform":[{"filter":"datum.p=='d'"}],"mark":{"type":"point","shape":"triangle-right","filled":true,"color":"#111","opacity":1,"size":36},"encoding":{"x":{"field":"x2","type":"quantitative"},"y":{"field":"y2","type":"quantitative"},"angle":{"field":"dir","type":"quantitative","scale":null}}},
{"data":{"name":"labels"},"transform":[{"filter":"datum.p=='d'"}],"mark":{"type":"text","align":"left","baseline":"middle","color":"#333"},"encoding":{"text":{"field":"text"},"size":{"field":"size","type":"quantitative","scale":null}}}
]}
]}
]}
